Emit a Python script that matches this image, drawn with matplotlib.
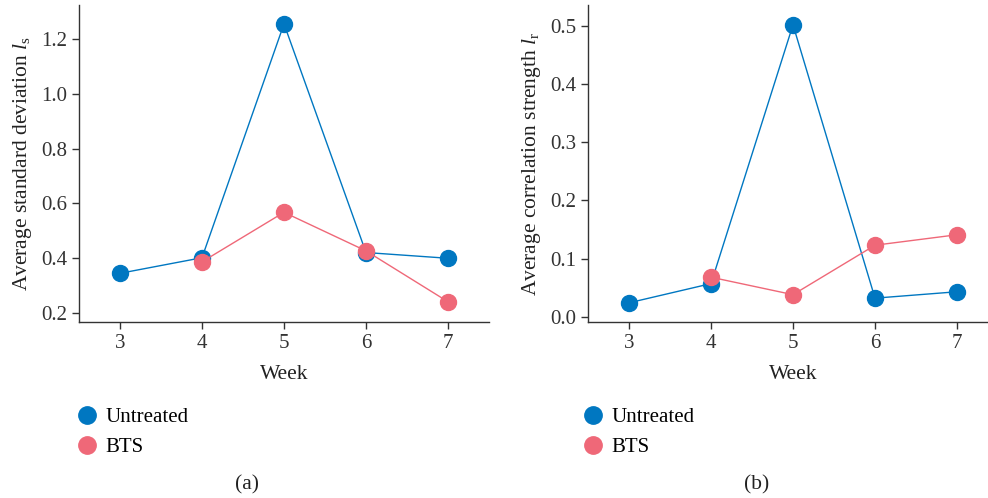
import matplotlib.pyplot as plt
from matplotlib.lines import Line2D

plt.rcParams['font.family'] = ['Liberation Serif', 'DejaVu Serif']
plt.rcParams['mathtext.fontset'] = 'custom'
plt.rcParams['mathtext.rm'] = 'Liberation Serif'
plt.rcParams['mathtext.it'] = 'Liberation Serif:italic'

weeks = [3, 4, 5, 6, 7]
bts_weeks = [4, 5, 6, 7]

# panel (a): average standard deviation
sd_untreated = [0.344, 0.401, 1.256, 0.420, 0.399]
sd_bts = [0.386, 0.567, 0.426, 0.240]

# panel (b): average correlation strength
cs_untreated = [0.024, 0.057, 0.502, 0.032, 0.043]
cs_bts = [0.068, 0.038, 0.123, 0.141]

blue = "#0077C1"
pink = "#EF6878"
W, H = 988, 498

fig = plt.figure(figsize=(W / 100, H / 100), dpi=100)


def make_panel(x0, x1, ydata_u, ydata_b, ylim, yticks, ylabel, tag, tag_x, leg_x):
    ax = fig.add_axes([x0 / W, 1 - 322 / H, (x1 - x0) / W, 317 / H])
    ax.plot(weeks, ydata_u, '-o', color=blue, lw=1.0, ms=11.5, zorder=3)
    ax.plot(bts_weeks, ydata_b, '-o', color=pink, lw=1.0, ms=11.5, zorder=4)
    ax.set_xlim(2.5, 7.5)
    ax.set_ylim(*ylim)
    ax.set_xticks(weeks)
    ax.set_yticks(yticks)
    ax.set_yticklabels([f"{t:.1f}" for t in yticks])
    for s in ['top', 'right']:
        ax.spines[s].set_visible(False)
    for s in ['left', 'bottom']:
        ax.spines[s].set_color('#333333')
        ax.spines[s].set_linewidth(1.0)
    ax.tick_params(labelsize=15, colors='#333333', length=5, width=1.0)
    ax.set_xlabel("Week", fontsize=15.5, color='#222222', labelpad=9)
    ax.set_ylabel(ylabel, fontsize=15.5, color='#222222', labelpad=5)
    # legend below
    handles = [Line2D([], [], ls='', marker='o', ms=12.5, color=blue),
               Line2D([], [], ls='', marker='o', ms=12.5, color=pink)]
    fig.legend(handles, ["Untreated", "BTS"], loc='upper left',
               bbox_to_anchor=(leg_x / W, 1 - 399 / H), frameon=False,
               fontsize=15, handletextpad=0.4, labelspacing=0.5,
               handlelength=1.0, borderaxespad=0)
    fig.text(tag_x / W, 1 - 485 / H, tag, ha='center', va='center',
             fontsize=15.5, color='#222222')
    return ax


make_panel(79, 489, sd_untreated, sd_bts, (0.166, 1.325),
           [0.2, 0.4, 0.6, 0.8, 1.0, 1.2],
           r"Average standard deviation $\mathit{l}_{\mathrm{s}}$", "(a)", 247, 68)
make_panel(588, 998, cs_untreated, cs_bts, (-0.009, 0.536),
           [0.0, 0.1, 0.2, 0.3, 0.4, 0.5],
           r"Average correlation strength $\mathit{l}_{\mathrm{r}}$", "(b)", 757, 574)

fig.savefig("out.png", dpi=100)
